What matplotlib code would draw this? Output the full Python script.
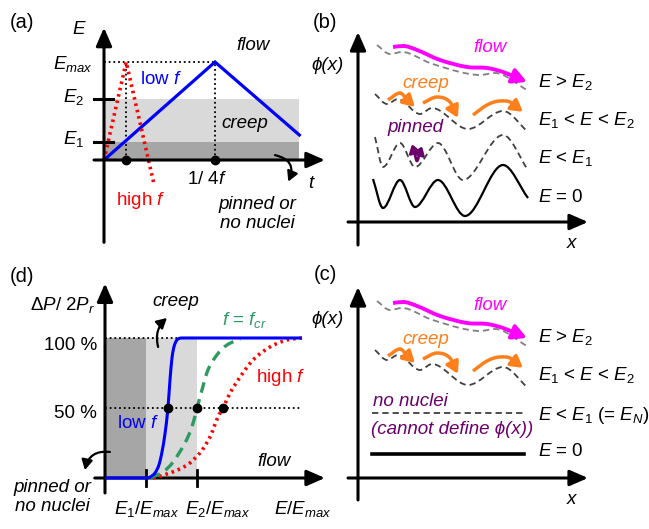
import numpy as np
import matplotlib
matplotlib.use('Agg')
import matplotlib.pyplot as plt
from matplotlib.path import Path
from matplotlib.patches import FancyArrowPatch, Rectangle, PathPatch

plt.rcParams['font.family'] = ['Liberation Sans', 'DejaVu Sans']
plt.rcParams['mathtext.fontset'] = 'custom'
plt.rcParams['mathtext.rm'] = 'Liberation Sans'
plt.rcParams['mathtext.it'] = 'Liberation Sans:italic'
plt.rcParams['mathtext.bf'] = 'Liberation Sans:bold'
plt.rcParams['mathtext.sf'] = 'Liberation Sans'

# ======================= data =======================
# (a) field waveform: t in units of 1/(4f_low), E in units of E_max
E1_a, E2_a, EMAX = 0.18, 0.62, 1.0
t_band_end = 1.76
t_low = [0.0, 1.0, 1.76]
E_low = [0.0, 1.0, 0.255]
t_high = [0.0, 0.2, 0.45]
E_high = [0.0, 1.0, -0.245]
t_marks = [0.2, 1.0]

# (d) switched polarization (%) vs E/E_max
E1_d, E2_d = 0.20, 0.45
x_lowf = [0.0, 0.20, 0.22, 0.244, 0.263, 0.278, 0.293, 0.307, 0.317, 0.327, 0.337, 0.351, 0.376, 0.96]
y_lowf = [0, 0, 0.7, 3.6, 9.3, 18.6, 32, 50, 70, 86, 94, 98.6, 100, 100]
x_fcr = [0.22, 0.283, 0.332, 0.390, 0.424, 0.449, 0.473, 0.502, 0.546, 0.595, 0.659]
y_fcr = [0, 4.3, 11.4, 25, 36.4, 50, 62.9, 77.1, 87.9, 95, 99.3]
x_highf = [0.234, 0.317, 0.40, 0.463, 0.512, 0.551, 0.576, 0.61, 0.659, 0.722, 0.805, 0.888, 0.961]
y_highf = [0, 3.6, 9.3, 17.9, 29.3, 43.6, 50, 60.7, 72.1, 84.3, 93.6, 98.6, 100]
x50 = [0.307, 0.449, 0.576]
levels_d = [50, 100]

# (b)/(c) domain-wall energy landscapes phi(x) (schematic units)
E0_x = [15, 25, 42, 57, 80, 107, 145, 170]
E0_y = [43, 14, 42, 15, 42, 6, 57, 24]
Elow_x = [17, 25, 42, 57, 80, 105, 145, 170]
Elow_y = [85, 55, 79, 55, 79, 42, 87, 52]
creep_x = [17, 29, 40, 62, 74, 110, 145, 170]
creep_y = [128, 118, 123, 108, 114, 93, 111, 90]
flow_x = [19, 32, 44, 72, 102, 122, 137, 169]
flow_y = [177, 168, 170, 159, 150, 147, 149, 132]
mag_x = [35, 45, 59, 82, 109, 129, 145, 169]
mag_y = [175, 176, 172, 162, 155, 154, 150, 140]
or1_x, or1_y = [30, 42, 57], [122, 129, 115]
or2_x, or2_y = [65, 79, 92, 100], [119, 125, 120, 104]
or3_x, or3_y = [115, 129, 142, 152, 165], [107, 117, 121, 120, 110]
pin_x, pin_y = [54, 59, 64], [78, 61, 76]
flat_x = [14, 166]
noN_y = 65
zero_y = 24

# ======================= helpers =======================
W, H = 649, 529
fig = plt.figure(figsize=(W / 100, H / 100), dpi=100)
FS = 13.5


def panel_ax(box, origin, scale):
    L, T, R, B = box
    ox, oy = origin
    sx, sy = scale
    ax = fig.add_axes([L / W, 1 - B / H, (R - L) / W, (B - T) / H])
    ax.set_xlim((L - ox) / sx, (R - ox) / sx)
    ax.set_ylim((oy - B) / sy, (oy - T) / sy)
    ax.axis('off')
    return ax


def txt(px, py, s, **kw):
    kw.setdefault('fontsize', FS)
    kw.setdefault('ha', 'center')
    kw.setdefault('va', 'center')
    fig.text(px / W, 1 - py / H, s, **kw)


def slopes(x, y):
    n = len(x)
    s = np.zeros(n)
    for i in range(n):
        if i == 0:
            s[i] = (y[1] - y[0]) / (x[1] - x[0])
        elif i == n - 1:
            s[i] = (y[-1] - y[-2]) / (x[-1] - x[-2])
        else:
            d0 = y[i] - y[i - 1]
            d1 = y[i + 1] - y[i]
            s[i] = 0 if d0 * d1 <= 0 else (y[i + 1] - y[i - 1]) / (x[i + 1] - x[i - 1])
    return s


def smooth_path(xs, ys, Lb=0.0, Le=0.0):
    x = np.asarray(xs, float).copy()
    y = np.asarray(ys, float).copy()
    s = slopes(x, y)
    verts, codes = [], []
    p0 = (x[0], y[0])
    pe = (x[-1], y[-1])
    if Lb > 0:
        u = np.array([1.0, s[0]]) / np.hypot(1.0, s[0])
        x[0], y[0] = p0[0] + u[0] * Lb, p0[1] + u[1] * Lb
        verts += [p0, (x[0], y[0])]
        codes += [Path.MOVETO, Path.LINETO]
    else:
        verts += [(x[0], y[0])]
        codes += [Path.MOVETO]
    if Le > 0:
        u = np.array([1.0, s[-1]]) / np.hypot(1.0, s[-1])
        x[-1], y[-1] = pe[0] - u[0] * Le, pe[1] - u[1] * Le
    for i in range(len(x) - 1):
        h = x[i + 1] - x[i]
        verts += [(x[i] + h / 3, y[i] + s[i] * h / 3),
                  (x[i + 1] - h / 3, y[i + 1] - s[i + 1] * h / 3),
                  (x[i + 1], y[i + 1])]
        codes += [Path.CURVE4] * 3
    if Le > 0:
        verts += [pe]
        codes += [Path.LINETO]
    return Path(verts, codes)


def curve(ax, xs, ys, **kw):
    ax.add_patch(PathPatch(smooth_path(xs, ys), fill=False, **kw))


def path_arrow(ax, xs, ys, color, lw, both=False, hl=0.7, hw=0.4, ms=10):
    L = hl * ms * 100 / 72 + 0.5  # head length in px (= data units here)
    style = '<|-|>' if both else '-|>'
    ax.add_patch(FancyArrowPatch(path=smooth_path(xs, ys, L if both else 0, L),
                                 arrowstyle=f'{style},head_length={hl},head_width={hw}',
                                 mutation_scale=ms, lw=lw, color=color,
                                 joinstyle='round', capstyle='butt', zorder=5))


def axis_arrow(ax, p0, p1):
    ax.annotate('', xy=p1, xytext=p0, annotation_clip=False,
                arrowprops=dict(arrowstyle='-|>,head_length=1.1,head_width=0.48',
                                lw=2.2, color='k', mutation_scale=10,
                                shrinkA=0, shrinkB=0), zorder=4)


def bent_arrow(ax, pA, pB, rad):
    ax.add_patch(FancyArrowPatch(pA, pB, connectionstyle=f'arc3,rad={rad}',
                                 arrowstyle='-|>,head_length=0.6,head_width=0.33',
                                 mutation_scale=10, lw=1.6, color='k',
                                 shrinkA=0, shrinkB=0, zorder=6))


DARK = '#a6a6a6'
LIGHT = '#d9d9d9'
DOT = (0, (1, 1.6))
PHI = '\u03d5'
ORANGE = '#ff7f1a'
PURPLE = '#6b006b'

# ======================= (a) =======================
axa = panel_ax((0, 0, 330, 255), (104, 160), (111, 98))
axa.add_patch(Rectangle((0, 0), t_band_end, E1_a, color=DARK, lw=0, zorder=1))
axa.add_patch(Rectangle((0, E1_a), t_band_end, E2_a - E1_a, color=LIGHT, lw=0, zorder=1))
axa.plot([0, t_low[1]], [EMAX, EMAX], color='k', lw=1.3, ls=DOT, zorder=2)
for tm in t_marks:
    axa.plot([tm, tm], [0, EMAX], color='k', lw=1.3, ls=DOT, zorder=2)
axa.plot(t_low, E_low, color='#0000ff', lw=2.3, zorder=3, solid_joinstyle='miter')
axa.plot(t_high, E_high, color='#ff0000', lw=2.6, ls=(0, (0.7, 1.1)), zorder=3)
axis_arrow(axa, (-0.09, 0), (1.99, 0))
axis_arrow(axa, (0, -0.84), (0, 1.35))
for lev in (E1_a, E2_a):
    axa.plot([-0.09, 0.08], [lev, lev], color='k', lw=2.2, zorder=4)
axa.plot(t_marks, [0, 0], 'o', color='k', ms=6, zorder=6)
bent_arrow(axa, (1.54, 0.05), (1.66, -0.22), -0.6)

txt(22, 23, '(a)', fontsize=14.5)
txt(79, 29, r'$E$')
txt(93, 64, r'$E_{max}$', ha='right')
txt(84, 97, r'$E_2$', ha='right')
txt(84, 139, r'$E_1$', ha='right')
txt(253, 45, 'flow', style='italic')
txt(161, 80, r'low $f$', color='#0000ff')
txt(245, 124, 'creep', style='italic')
txt(141, 200, r'high $f$', color='#ff0000')
txt(207, 179, r'1/ 4$f$')
txt(312, 183, r'$t$')
txt(257, 214, 'pinned or\nno nuclei', style='italic', linespacing=1.15)

# ======================= (b) =======================
axb = panel_ax((330, 0, 649, 255), (358, 222), (1, 1))
curve(axb, E0_x, E0_y, ec='k', lw=1.6, zorder=3)
curve(axb, Elow_x, Elow_y, ec='#404040', lw=1.3, ls=(0, (3.5, 2.2)), zorder=3)
curve(axb, creep_x, creep_y, ec='#404040', lw=1.3, ls=(0, (3.5, 2.2)), zorder=3)
curve(axb, flow_x, flow_y, ec='#808080', lw=1.3, ls=(0, (3.5, 2.2)), zorder=3)
path_arrow(axb, mag_x, mag_y, '#ff00ff', 2.8, hl=0.85, hw=0.45)
for ox_, oy_ in ((or1_x, or1_y), (or2_x, or2_y), (or3_x, or3_y)):
    path_arrow(axb, ox_, oy_, ORANGE, 2.5)
path_arrow(axb, pin_x, pin_y, PURPLE, 2.0, both=True, hl=0.5, hw=0.33)
axis_arrow(axb, (-10, 0), (230, 0))
axis_arrow(axb, (0, -23), (0, 190))

txt(325, 23, '(b)', fontsize=14.5)
txt(328, 66, PHI + '(x)', style='italic')
txt(490, 48, 'flow', style='italic', color='#ff00ff')
txt(426, 84, 'creep', style='italic', color=ORANGE)
txt(415, 128, 'pinned', style='italic', color=PURPLE)
txt(538, 82, r'$E$ > $E_2$', ha='left')
txt(538, 120, r'$E_1$ < $E$ < $E_2$', ha='left')
txt(538, 158, r'$E$ < $E_1$', ha='left')
txt(538, 197, r'$E$ = 0', ha='left')
txt(572, 244, r'$x$')

# ======================= (c) =======================
axc = panel_ax((330, 255, 649, 529), (358, 478), (1, 1))
axc.plot(flat_x, [zero_y, zero_y], color='k', lw=2.6, zorder=3)
axc.plot(flat_x, [noN_y, noN_y], color='#404040', lw=1.3, ls=(0, (3.5, 2.2)), zorder=3)
curve(axc, creep_x, creep_y, ec='#404040', lw=1.3, ls=(0, (3.5, 2.2)), zorder=3)
curve(axc, flow_x, flow_y, ec='#808080', lw=1.3, ls=(0, (3.5, 2.2)), zorder=3)
path_arrow(axc, mag_x, mag_y, '#ff00ff', 2.8, hl=0.85, hw=0.45)
for ox_, oy_ in ((or1_x, or1_y), (or2_x, or2_y), (or3_x, or3_y)):
    path_arrow(axc, ox_, oy_, ORANGE, 2.5)
axis_arrow(axc, (-10, 0), (230, 0))
axis_arrow(axc, (0, -22), (0, 191))

txt(325, 275, '(c)', fontsize=14.5)
txt(328, 320, PHI + '(x)', style='italic')
txt(490, 306, 'flow', style='italic', color='#ff00ff')
txt(426, 339, 'creep', style='italic', color=ORANGE)
txt(373, 401, 'no nuclei', style='italic', color=PURPLE, ha='left')
txt(452, 430, '(cannot define ' + PHI + '(x))', style='italic', color=PURPLE)
txt(538, 337, r'$E$ > $E_2$', ha='left')
txt(538, 375, r'$E_1$ < $E$ < $E_2$', ha='left')
txt(538, 415, r'$E$ < $E_1$ (= $E_N$)', ha='left')
txt(538, 452, r'$E$ = 0', ha='left')
txt(572, 499, r'$x$')

# ======================= (d) =======================
axd = panel_ax((0, 255, 330, 529), (105, 478), (205, 1.4))
axd.add_patch(Rectangle((0, 0), E1_d, 100, color=DARK, lw=0, zorder=1))
axd.add_patch(Rectangle((E1_d, 0), E2_d - E1_d, 100, color=LIGHT, lw=0, zorder=1))
for lev in levels_d:
    axd.plot([0, x_lowf[-1]], [lev, lev], color='k', lw=1.3, ls=DOT, zorder=2)
axis_arrow(axd, (-0.05, 0), (1.073, 0))
axis_arrow(axd, (0, -10.7), (0, 139))
for e in (E1_d, E2_d):
    axd.plot([e, e], [-6, 6], color='k', lw=2.0, zorder=4)
curve(axd, x_highf, y_highf, ec='#ff0000', lw=2.6, ls=(0, (0.7, 1.1)), zorder=5)
curve(axd, x_fcr, y_fcr, ec='#2e9960', lw=2.4, ls=(0, (3.2, 2.0)), zorder=5)
curve(axd, x_lowf, y_lowf, ec='#0000ff', lw=2.2, zorder=5)
axd.plot(x50, [50] * len(x50), 'o', color='k', ms=6, zorder=7)
bent_arrow(axd, (0.259, 93.6), (0.302, 114.3), -0.3)
bent_arrow(axd, (0.024, 18.6), (-0.098, 5.7), 0.45)

txt(22, 276, '(d)', fontsize=14.5)
txt(95, 305, r'$\Delta P$/ 2$P_r$', ha='right')
txt(97, 345, '100 %', ha='right')
txt(97, 413, '50 %', ha='right')
txt(176, 302, 'creep', style='italic')
txt(245, 320, r'$f$ = $f_{cr}$', color='#2e9960')
txt(281, 377, r'high $f$', color='#ff0000')
txt(138, 423, r'low $f$', color='#0000ff')
txt(274, 461, 'flow', style='italic')
txt(52, 497, 'pinned or\nno nuclei', style='italic', linespacing=1.15)
txt(147, 509, r'$E_1$/$E_{max}$')
txt(218, 509, r'$E_2$/$E_{max}$')
txt(303, 509, r'$E$/$E_{max}$')

fig.savefig('out.png', dpi=100)
